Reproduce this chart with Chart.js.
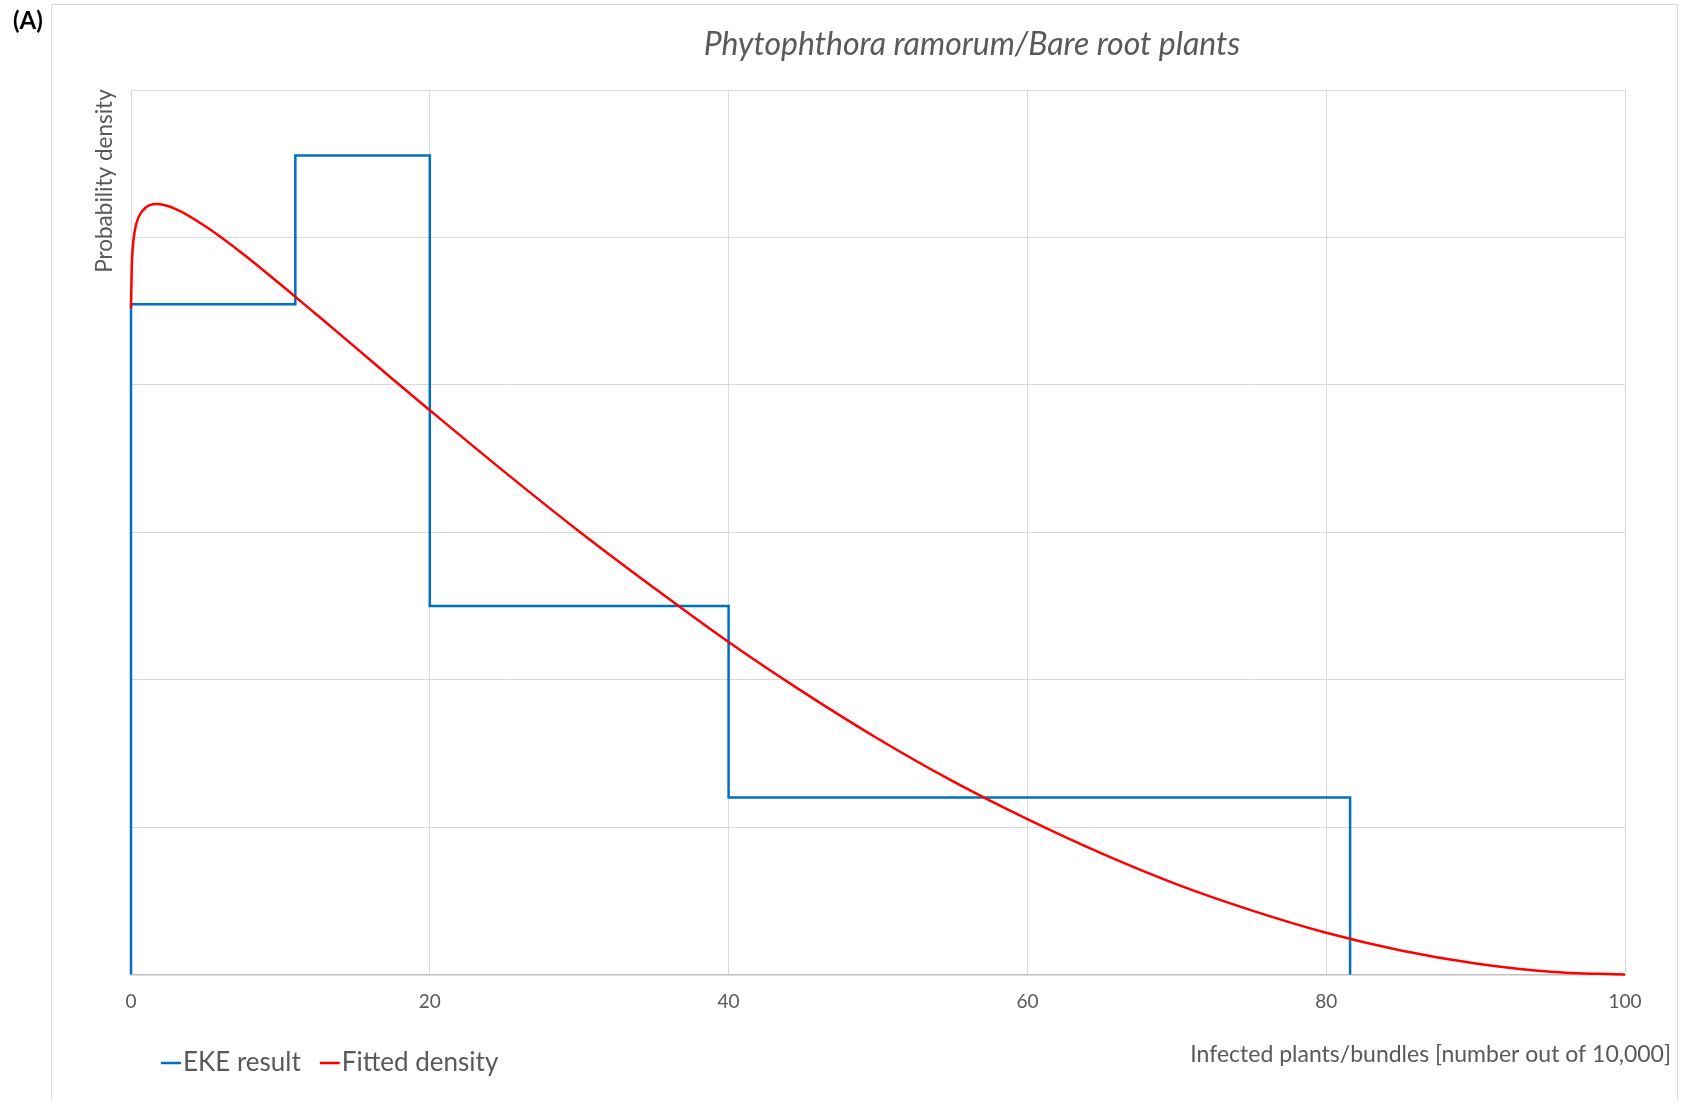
<!DOCTYPE html>
<html>
<head>
<meta charset="utf-8">
<script src="https://cdn.jsdelivr.net/npm/chart.js@4.4.0/dist/chart.umd.min.js"></script>
<style>
  html, body { margin: 0; padding: 0; background: #fff; overflow: hidden; }
  #wrap { position: relative; width: 1683px; height: 1101px; }
</style>
</head>
<body>
<div id="wrap"><canvas id="c" width="1683" height="1101"></canvas></div>
<script>
// Elicited quartile bins (EKE result): edges and density of each bin
const binEdges = [0, 11, 20, 40, 81.6];
const binDensity = [0.02273, 0.02778, 0.0125, 0.00601];

// Fitted density curve, sampled along the x axis
const fitX = [0, 0.05, 0.1, 0.25, 0.5, 1, 1.7, 3, 5, 7.5, 10, 12.5, 15, 17.5, 20,
  25, 30, 35, 40, 45, 50, 55, 60, 65, 70, 75, 80, 85, 90, 95, 100];
const fitY = [0.0226, 0.0240, 0.02454, 0.02522, 0.02568, 0.02602, 0.02613, 0.02596, 0.02537,
  0.02444, 0.02341, 0.02235, 0.02128, 0.0202, 0.01914, 0.01705, 0.01503, 0.01312, 0.01128,
  0.00958, 0.008, 0.00656, 0.00527, 0.0041, 0.00306, 0.00218, 0.00142, 0.00082, 0.00038,
  0.0001, 0];

const xTicks = [0, 20, 40, 60, 80, 100];
const yGrid = [0, 0.005, 0.01, 0.015, 0.02, 0.025, 0.03];

const seriesNames = ['EKE result', 'Fitted density'];
const seriesColors = ['#0070C0', '#FF0000'];

const chartTitle = 'Phytophthora ramorum/Bare root plants';
const xTitle = 'Infected plants/bundles [number out of 10,000]';
const yTitle = 'Probability density';
const panelTag = '(A)';

// Step outline of the bins
const histPts = [{ x: binEdges[0], y: 0 }];
binDensity.forEach((d, i) => {
  histPts.push({ x: binEdges[i], y: d });
  histPts.push({ x: binEdges[i + 1], y: d });
});
histPts.push({ x: binEdges[binEdges.length - 1], y: 0 });

const fitPts = fitX.map((x, i) => ({ x, y: fitY[i] }));

const FONT = 'Lato, "Open Sans", sans-serif';
const GREY_TEXT = '#595959';

const decor = {
  id: 'decor',
  beforeDraw(chart) {
    const ctx = chart.ctx;
    ctx.save();
    ctx.strokeStyle = '#d9d9d9';
    ctx.lineWidth = 1;
    ctx.strokeRect(51.5, 4.5, 1626, 1200);
    ctx.restore();
  },
  afterDraw(chart) {
    const ctx = chart.ctx;
    ctx.save();
    // panel tag
    ctx.fillStyle = '#000';
    ctx.font = 'bold 24px ' + FONT;
    ctx.textAlign = 'left';
    ctx.textBaseline = 'middle';
    ctx.fillText(panelTag, 13, 21);

    // title
    ctx.fillStyle = GREY_TEXT;
    ctx.font = 'italic 32px ' + FONT;
    ctx.textAlign = 'center';
    ctx.fillText(chartTitle, 972, 45);

    // y axis title, rotated, near the top of the plot
    ctx.save();
    ctx.translate(105, 181);
    ctx.rotate(-Math.PI / 2);
    ctx.font = '22.5px ' + FONT;
    ctx.textAlign = 'center';
    ctx.fillText(yTitle, 0, 0);
    ctx.restore();

    // x axis title, right aligned
    ctx.font = '23px ' + FONT;
    ctx.textAlign = 'right';
    ctx.fillText(xTitle, 1671, 1055);

    // legend
    ctx.font = '26px ' + FONT;
    ctx.textAlign = 'left';
    let lx = 161;
    const ly = 1063;
    seriesNames.forEach((name, i) => {
      ctx.strokeStyle = seriesColors[i];
      ctx.lineWidth = 2.5;
      ctx.beginPath();
      ctx.moveTo(lx, ly);
      ctx.lineTo(lx + 20, ly);
      ctx.stroke();
      ctx.fillStyle = GREY_TEXT;
      ctx.fillText(name, lx + 22, ly);
      lx += 22 + ctx.measureText(name).width + 19;
    });
    ctx.restore();
  }
};

new Chart(document.getElementById('c'), {
  type: 'line',
  data: {
    datasets: [
      {
        label: seriesNames[0],
        data: histPts,
        borderColor: seriesColors[0],
        borderWidth: 2.5,
        pointRadius: 0,
        tension: 0,
        fill: false,
        clip: false,
        order: 1
      },
      {
        label: seriesNames[1],
        data: fitPts,
        borderColor: seriesColors[1],
        borderWidth: 2.5,
        pointRadius: 0,
        cubicInterpolationMode: 'monotone',
        fill: false,
        clip: false,
        order: 0
      }
    ]
  },
  options: {
    responsive: false,
    animation: false,
    devicePixelRatio: 1,
    layout: { padding: { left: 131, top: 90, right: 58, bottom: 76.4 } },
    scales: {
      x: {
        type: 'linear',
        min: 0,
        max: 100,
        afterBuildTicks: s => { s.ticks = xTicks.map(v => ({ value: v })); },
        afterFit: s => { s.height = 50; },
        grid: { color: '#d9d9d9', lineWidth: 1, drawTicks: false },
        border: { color: '#bfbfbf', width: 1.5 },
        ticks: { color: GREY_TEXT, font: { family: FONT, size: 19 }, padding: 16, maxRotation: 0 }
      },
      y: {
        min: 0,
        max: 0.03,
        afterBuildTicks: s => { s.ticks = yGrid.map(v => ({ value: v })); },
        afterFit: s => { s.width = 0; },
        grid: { color: '#d9d9d9', lineWidth: 1, drawTicks: false },
        border: { display: false },
        ticks: { display: false }
      }
    },
    plugins: {
      legend: { display: false },
      title: { display: false },
      tooltip: { enabled: false }
    }
  },
  plugins: [decor]
});
</script>
</body>
</html>
